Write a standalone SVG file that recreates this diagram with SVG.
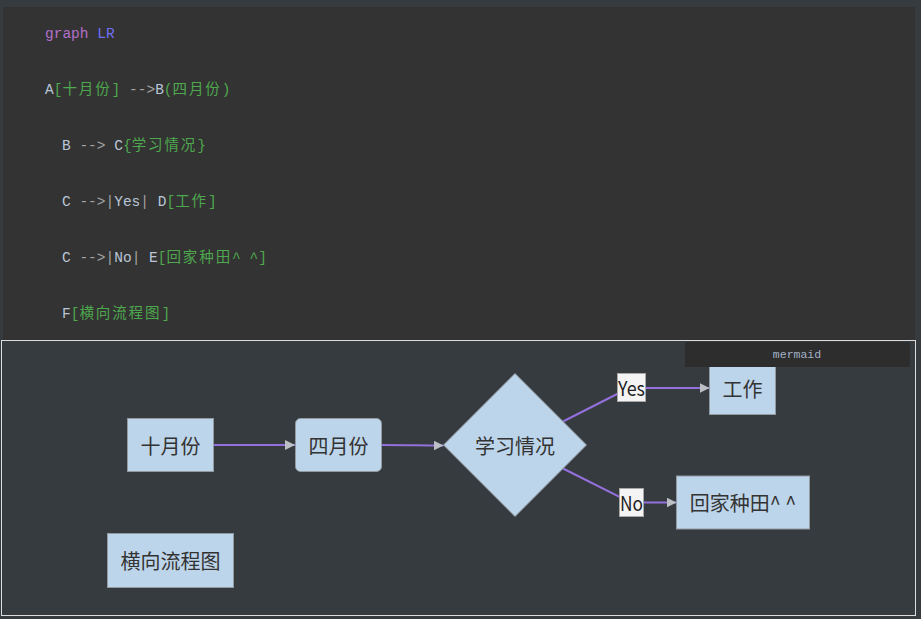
<svg xmlns="http://www.w3.org/2000/svg" width="921" height="619" viewBox="0 0 921 619">
<defs>
<style>
.code{font-family:"Liberation Mono","Noto Sans CJK SC",monospace;font-size:14.5px;}
.kw{fill:#b46fc9}.dir{fill:#6f6ff0}.id{fill:#b9c6d8}.op{fill:#a3a3a3}.str{fill:#4ea84e}
.cjk{letter-spacing:1.9px}
.node rect,.node polygon{fill:#bdd5ea;stroke:#9299a0;stroke-width:1}
.lbl{font-family:"Noto Sans CJK SC","Noto Sans",sans-serif;font-size:20px;fill:#333;text-anchor:middle;dominant-baseline:central}
.edge{fill:none;stroke:#9370db;stroke-width:2}
.elbl rect{fill:#f4f4f4;stroke:#a8a8a8;stroke-width:1}
</style>
<marker id="arr" viewBox="0 0 10 10" refX="10" refY="5" markerWidth="10" markerHeight="10" markerUnits="userSpaceOnUse" orient="auto">
<path d="M0,0 L10,5 L0,10 Z" fill="#bcc0c4"/>
</marker>
</defs>
<rect x="0" y="0" width="921" height="619" fill="#363b40"/>
<rect x="3" y="7" width="912" height="334" fill="#333333"/>
<g id="code" class="code">
<text x="45" y="38"><tspan class="kw">graph</tspan> <tspan class="dir">LR</tspan></text>
<text x="45" y="94"><tspan class="id">A</tspan><tspan class="str">[</tspan><tspan class="str cjk">十月份</tspan><tspan class="str">]</tspan><tspan class="op"> --&gt;</tspan><tspan class="id">B</tspan><tspan class="str">(</tspan><tspan class="str cjk">四月份</tspan><tspan class="str">)</tspan></text>
<text x="62" y="150"><tspan class="id">B</tspan><tspan class="op"> --&gt; </tspan><tspan class="id">C</tspan><tspan class="str">{</tspan><tspan class="str cjk">学习情况</tspan><tspan class="str">}</tspan></text>
<text x="62" y="206"><tspan class="id">C</tspan><tspan class="op"> --&gt;|</tspan><tspan class="id">Yes</tspan><tspan class="op">| </tspan><tspan class="id">D</tspan><tspan class="str">[</tspan><tspan class="str cjk">工作</tspan><tspan class="str">]</tspan></text>
<text x="62" y="262"><tspan class="id">C</tspan><tspan class="op"> --&gt;|</tspan><tspan class="id">No</tspan><tspan class="op">| </tspan><tspan class="id">E</tspan><tspan class="str">[</tspan><tspan class="str cjk">回家种田</tspan><tspan class="str">^ ^]</tspan></text>
<text x="62" y="318"><tspan class="id">F</tspan><tspan class="str">[</tspan><tspan class="str cjk">横向流程图</tspan><tspan class="str">]</tspan></text>
</g>
<rect x="1.5" y="340.5" width="914" height="275" fill="#363b40" stroke="#dcdcdc" stroke-width="1"/>
<g id="connectors">
<path class="edge" d="M213.5,445 L295,445" marker-end="url(#arr)"/>
<path class="edge" d="M381.5,445 C410,445 420,445.5 443.5,445.5" marker-end="url(#arr)"/>
<path class="edge" d="M563,421.5 L625,390 C628,388.5 630,388 635,388 L709.5,388" marker-end="url(#arr)"/>
<path class="edge" d="M563,468.5 L625,499.5 C628,501.5 630,502.5 635,502.5 L676.5,502.5" marker-end="url(#arr)"/>
<g class="elbl" id="label-yes">
<rect x="617.5" y="373.5" width="28" height="28"/>
<text class="lbl" x="631.5" y="387.5" textLength="27" lengthAdjust="spacingAndGlyphs" style="fill:#222">Yes</text>
</g>
<g class="elbl" id="label-no">
<rect x="619.5" y="488.5" width="24" height="28"/>
<text class="lbl" x="631.5" y="502.5" textLength="23" lengthAdjust="spacingAndGlyphs" style="fill:#222">No</text>
</g>
</g>
<g id="A" class="node">
<rect x="127.5" y="418.5" width="86" height="53"/>
<text class="lbl" x="170.5" y="445">十月份</text>
</g>
<g id="B" class="node">
<rect x="295.5" y="418.5" width="86" height="53" rx="5" ry="5"/>
<text class="lbl" x="338.5" y="445">四月份</text>
</g>
<g id="C" class="node">
<polygon points="515,373.5 586.5,445 515,516.5 443.5,445"/>
<text class="lbl" x="515" y="445">学习情况</text>
</g>
<g id="D" class="node">
<rect x="709.5" y="361.5" width="66" height="53"/>
<text class="lbl" x="742.5" y="388">工作</text>
</g>
<g id="E" class="node">
<rect x="676.5" y="476" width="133" height="53"/>
<text class="lbl" x="743" y="502.5">回家种田^ ^</text>
</g>
<g id="F" class="node">
<rect x="107.5" y="533.5" width="126" height="54"/>
<text class="lbl" x="170.5" y="560.5">横向流程图</text>
</g>
<g id="mermaid-tag">
<rect x="685" y="342" width="225" height="25" fill="#2d2d2d"/>
<text x="797" y="357.5" font-family="Liberation Mono, monospace" font-size="11.5" fill="#a3b3c6" text-anchor="middle">mermaid</text>
</g>
</svg>
